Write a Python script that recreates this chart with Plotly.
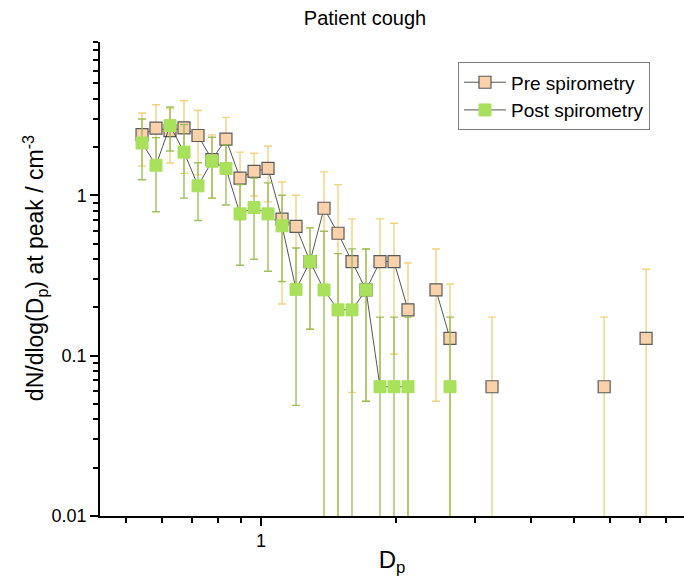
import plotly.graph_objects as go

# ---- data ----
pre_x = [0.5425, 0.5829, 0.6264, 0.6731, 0.7233, 0.7772, 0.8351, 0.8977, 0.9647, 1.0366,
         1.1140, 1.1970, 1.2863, 1.3822, 1.4853, 1.5960, 1.7151, 1.8430, 1.9805, 2.1281,
         2.2869, 2.4574, 2.6407, 2.9500, 3.2770, 4.4000, 5.8320, 6.5000, 7.2340]
pre_y = [2.39, 2.62, 2.53, 2.63, 2.36, 1.67, 2.24, 1.28, 1.41, 1.47,
         0.71, 0.64, 0.386, 0.83, 0.58, 0.386, 0.257, 0.386, 0.386, 0.193,
         None, 0.257, 0.128, None, 0.064, None, 0.064, None, 0.128]
pre_err = [0.87, 1.05, 0.94, 1.26, 1.02, 0.71, 0.82, 0.58, 0.42, 0.56,
           0.50, 0.36, 0.24, 0.57, 0.585, 0.327, 0.205, 0.327, 0.284, 0.185,
           0, 0.205, 0.152, 0, 0.11, 0, 0.11, 0, 0.218]

post_x = [0.5425, 0.5829, 0.6264, 0.6731, 0.7233, 0.7772, 0.8351, 0.8977, 0.9647, 1.0366,
          1.1140, 1.1970, 1.2863, 1.3822, 1.4853, 1.5960, 1.7151, 1.8430, 1.9805, 2.1281,
          2.2869, 2.4574, 2.6407]
post_y = [2.12, 1.54, 2.72, 1.86, 1.146, 1.63, 1.47, 0.766, 0.839, 0.766,
          0.645, 0.259, 0.386, 0.257, 0.193, 0.193, 0.257, 0.064, 0.064, 0.064,
          None, None, 0.064]
post_err = [0.87, 0.75, 0.83, 0.90, 0.45, 0.67, 0.60, 0.40, 0.44, 0.43,
            0.355, 0.21, 0.24, 0.34, 0.24, 0.27, 0.205, 0.11, 0.11, 0.11,
            0, 0, 0.11]

x_ticks = [1]
y_ticks = [0.01, 0.1, 1]
x_minor = [0.5, 0.6, 0.7, 0.8, 0.9, 2, 3, 4, 5, 6, 7, 8]
y_minor = [0.02, 0.03, 0.04, 0.05, 0.06, 0.07, 0.08, 0.09,
           0.2, 0.3, 0.4, 0.5, 0.6, 0.7, 0.8, 0.9,
           2, 3, 4, 5, 6, 7, 8, 9]

FONT = "Arial, 'Liberation Sans', sans-serif"

fig = go.Figure()
fig.add_trace(go.Scatter(
    x=pre_x, y=pre_y, name="Pre spirometry", mode="lines+markers",
    line=dict(color="#2b2b2b", width=0.8),
    marker=dict(symbol="square", size=12, color="#F9D2AC",
                line=dict(color="#5a5a5a", width=1.2)),
    error_y=dict(type="data", array=pre_err, visible=True,
                 color="rgba(240,208,120,0.95)", thickness=1.4, width=4),
))
fig.add_trace(go.Scatter(
    x=post_x, y=post_y, name="Post spirometry", mode="lines+markers",
    line=dict(color="#2b2b2b", width=0.8),
    marker=dict(symbol="square", size=12, color="#A9E05C",
                line=dict(color="#A9E05C", width=1)),
    error_y=dict(type="data", array=post_err, visible=True,
                 color="rgba(145,185,75,0.9)", thickness=1.4, width=4),
))

fig.update_layout(
    width=684, height=581,
    margin=dict(l=100, r=0, t=42, b=65),
    paper_bgcolor="white", plot_bgcolor="white",
    font=dict(family=FONT, color="black", size=18),
    title=dict(text="Patient cough", x=365/684, xanchor="center",
               y=1 - 18/581, yanchor="middle", yref="container",
               font=dict(size=20, family=FONT)),
    showlegend=True,
    legend=dict(x=0.613, y=0.957, xanchor="left", yanchor="top",
                bordercolor="#7f7f7f", borderwidth=1, bgcolor="white",
                font=dict(size=19, family=FONT), tracegroupgap=0,
                itemwidth=42),
    annotations=[dict(
        text="dN/dlog(D<sub>p</sub>) at peak / cm<sup>-3</sup>",
        xref="paper", yref="paper", x=(35 - 100) / 584, y=(516 - 268) / 474.3,
        xanchor="center", yanchor="middle", textangle=-90, showarrow=False,
        font=dict(size=23, family=FONT, color="black"),
    )],
)
fig.update_xaxes(
    type="log", range=[-0.3594, 0.944],
    showline=True, linecolor="black", linewidth=1.5, mirror=False,
    showgrid=False, zeroline=False,
    tickmode="array", tickvals=x_ticks, ticktext=["1"],
    ticks="outside", ticklen=8, tickwidth=1.5, tickcolor="black",
    tickfont=dict(size=18),
    minor=dict(tickmode="array", tickvals=x_minor, ticks="outside",
               ticklen=5, tickwidth=1.5, tickcolor="black", showgrid=False),
    title=dict(text="D<sub>p</sub>", font=dict(size=24), standoff=1),
)
fig.update_yaxes(
    type="log", range=[-2, 0.956],
    showline=True, linecolor="black", linewidth=1.5, mirror=False,
    showgrid=False, zeroline=False,
    tickmode="array", tickvals=y_ticks, ticktext=["0.01", "0.1", "1"],
    ticks="outside", ticklen=8, tickwidth=1.5, tickcolor="black",
    tickfont=dict(size=18),
    minor=dict(tickmode="array", tickvals=y_minor, ticks="outside",
               ticklen=5, tickwidth=1.5, tickcolor="black", showgrid=False),
)

fig.write_html("out.html")
